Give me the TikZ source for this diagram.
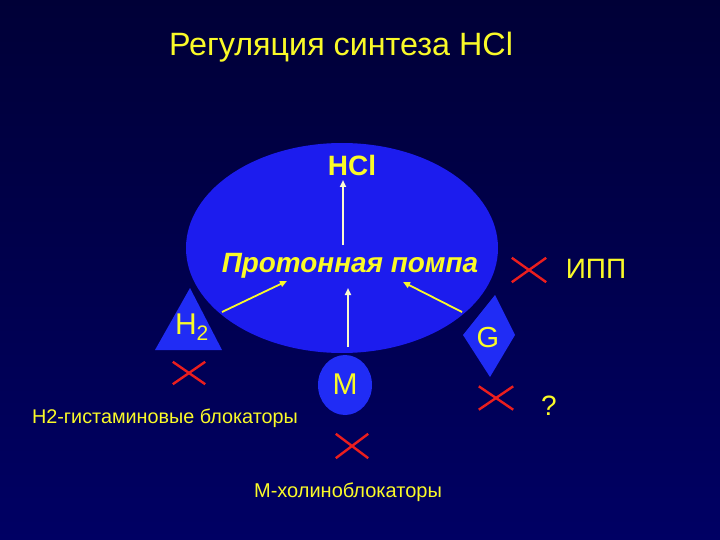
\documentclass[tikz,border=0pt]{standalone}
\usepackage{fontspec}
\setmainfont{Liberation Sans}
\usetikzlibrary{shapes.geometric,shapes.misc,arrows.meta}
\definecolor{bgtop}{RGB}{0,0,55}
\definecolor{bgmid}{RGB}{2,2,135}
\definecolor{bgbot}{RGB}{0,0,100}
\definecolor{cellblue}{RGB}{28,28,238}
\definecolor{recblue}{RGB}{32,44,245}
\definecolor{txtyellow}{RGB}{250,250,40}
\definecolor{paleyellow}{RGB}{250,250,205}
\definecolor{xred}{RGB}{235,30,30}
\tikzset{
  lbl/.style={text=txtyellow, inner sep=0pt, anchor=center},
  blocker/.style={cross out, draw=xred, line width=2.4pt, minimum width=30pt, minimum height=20pt, inner sep=0pt},
  arrv/.style={draw=paleyellow, line width=1.8pt, -{Triangle[length=7pt,width=6pt]}},
  arrd/.style={draw=txtyellow, line width=1.8pt, -{Triangle[length=7pt,width=6pt]}},
}
\begin{document}
\begin{tikzpicture}[x=1pt,y=-1pt]
\shade[top color=bgtop, middle color=bgmid, bottom color=bgbot] (0,0) rectangle (720,540);
\useasboundingbox (0,0) rectangle (720,540);

% title
\node[lbl, font=\fontsize{32.3}{36}\selectfont] (title) at (341,47) {Регуляция синтеза HCl};

% receptors behind the cell
\fill[recblue] (190,288) -- (222,350) -- (155,350) -- cycle;
\node[ellipse, fill=cellblue, minimum width=312pt, minimum height=210pt, inner sep=0pt] (cell) at (342,248) {};
\fill[recblue] (495,295) -- (515,335) -- (490,377) -- (463,335) -- cycle;
\node[ellipse, fill=recblue, minimum width=54pt, minimum height=60pt, inner sep=0pt] (mcirc) at (345,385) {};

% texts
\node[lbl, font=\bfseries\fontsize{28}{32}\selectfont] (hcl) at (352,165) {HCl};
\node[lbl, font=\bfseries\itshape\fontsize{27.9}{32}\selectfont] (pump) at (350,266) {Протонная помпа};
\node[lbl, font=\fontsize{28}{32}\selectfont] (ipp) at (596,269) {ИПП};
\node[lbl, font=\fontsize{30}{34}\selectfont] (h2) at (192,327) {H\textsubscript{2}};
\node[lbl, font=\fontsize{29}{34}\selectfont] (g) at (488,338) {G};
\node[lbl, font=\fontsize{30}{34}\selectfont] (m) at (345,384) {M};
\node[lbl, font=\fontsize{28}{32}\selectfont] (q) at (549,406) {?};
\node[lbl, font=\fontsize{19.8}{22}\selectfont] (lblh2) at (165,418) {H2-гистаминовые блокаторы};
\node[lbl, font=\fontsize{20}{22}\selectfont] (lblm) at (348,492) {М-холиноблокаторы};

% blockers
\node[blocker, minimum width=32pt, minimum height=22pt] (xipp) at (529,270) {};
\node[blocker] (xh2) at (189,373) {};
\node[blocker, minimum height=22pt] (xm) at (352,446) {};
\node[blocker, minimum width=32pt, minimum height=21pt] (xg) at (496,398) {};

% arrows
\coordinate (pumpTop) at (343,245);
\coordinate (hclBot) at (343,180);
\coordinate (h2Start) at (222,312);
\coordinate (pumpL) at (287,281);
\coordinate (mStart) at (348,347);
\coordinate (pumpB) at (348,288);
\coordinate (gStart) at (462,312);
\coordinate (pumpR) at (403,282);
\draw[arrv] (pumpTop) -- (hclBot);
\draw[arrd] (h2Start) -- (pumpL);
\draw[arrv] (mStart) -- (pumpB);
\draw[arrd] (gStart) -- (pumpR);
\end{tikzpicture}
\end{document}
